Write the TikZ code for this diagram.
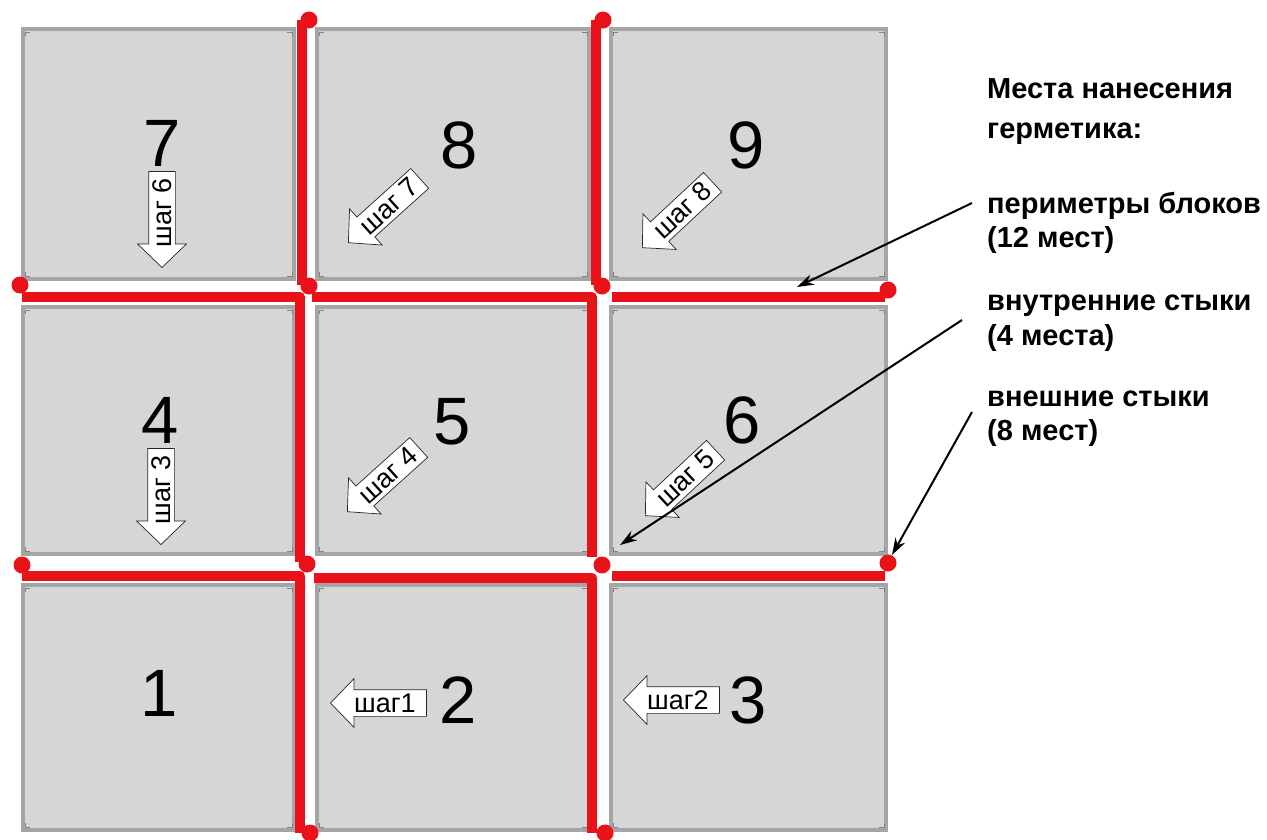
\documentclass[tikz,border=0pt]{standalone}
\usepackage{fontspec}
\setmainfont{Liberation Sans}
\usetikzlibrary{shapes.arrows,arrows.meta,calc}
\definecolor{sealred}{RGB}{232,18,24}
\definecolor{panelfill}{RGB}{214,214,214}
\definecolor{paneledge}{RGB}{165,165,165}
\definecolor{markgray}{RGB}{130,130,130}
\begin{document}
\begin{tikzpicture}[x=1pt,y=-1pt,
  panel/.style={draw=paneledge, fill=panelfill, line width=4pt, inner sep=0pt},
  digit/.style={font=\fontsize{67}{67}\selectfont, inner sep=0pt},
  seal/.style={draw=sealred, line width=10pt, line join=round},
  sealdot/.style={circle, fill=sealred, minimum size=17pt, inner sep=0pt},
  stepar/.style={single arrow, draw=black!85, fill=white, line width=0.7pt,
    single arrow head extend=11pt, single arrow tip angle=92,
    minimum height=96pt, inner xsep=1.5pt, inner ysep=4pt,
    text height=18pt, text depth=0pt, font=\fontsize{27}{27}\selectfont,
    shape border rotate=180, anchor=tip},
  callout/.style={draw=black, line width=2pt, -{Stealth[length=17pt,width=11pt]}},
  note/.style={font=\fontsize{29}{29}\selectfont\bfseries, anchor=base west, inner sep=0pt},
  cornermark/.style={draw=markgray, line width=0.8pt}
]
\useasboundingbox (0,0) rectangle (1267,839);
\fill[white] (0,0) rectangle (1267,839);

% panels
\foreach \n/\cx/\cy/\w/\h in {
  7/158.5/154/271/250, 8/453/154/272/250, 9/748.5/154/275/250,
  4/158.5/430.5/271/247, 5/453/430.5/272/247, 6/748.5/430.5/275/247,
  1/158.5/707.5/271/245, 2/453/707.5/272/245, 3/748.5/707.5/275/245}{
  \node[panel, minimum width=\w pt, minimum height=\h pt] (p\n) at (\cx,\cy) {};
  \draw[cornermark] ($(p\n.north west)+(4,9)$) -- ++(0,-4) -- ++(5,0);
  \draw[cornermark] ($(p\n.north east)+(-4,9)$) -- ++(0,-4) -- ++(-5,0);
  \draw[cornermark] ($(p\n.south west)+(4,-9)$) -- ++(0,4) -- ++(5,0);
  \draw[cornermark] ($(p\n.south east)+(-4,-9)$) -- ++(0,4) -- ++(-5,0);
}

% digits
\node[digit] (n7) at (162,143) {7};
\node[digit] (n8) at (459,145) {8};
\node[digit] (n9) at (746,145) {9};
\node[digit] (n4) at (160,420) {4};
\node[digit] (n5) at (452,422) {5};
\node[digit] (n6) at (742,420) {6};
\node[digit] (n1) at (159,693) {1};
\node[digit] (n2) at (458,700) {2};
\node[digit] (n3) at (748,700) {3};

% step arrows
\node[stepar] (s1) at (330,703) {шаг1};
\node[stepar] (s2) at (623,700) {шаг2};
\node[stepar, rotate=90] (s3) at (161,545) {шаг 3};
\node[stepar, rotate=90] (s6) at (162,268) {шаг 6};
\node[stepar, rotate=42] (s7) at (348,243) {шаг 7};
\node[stepar, rotate=43] (s8) at (642,248) {шаг 8};
\node[stepar, rotate=42] (s4) at (347,512) {шаг 4};
\node[stepar, rotate=43] (s5) at (645,516) {шаг 5};

% seal lines
\draw[seal] (302,20) -- (302,285);
\draw[seal] (596,20) -- (596,285);
\draw[seal] (22,297) -- (300,297) -- (300,562);
\draw[seal] (312,297) -- (592,297) -- (592,557);
\draw[seal] (612,297) -- (885,297);
\draw[seal] (22,576) -- (300,576) -- (300,833);
\draw[seal] (314,578) -- (592,578) -- (592,833);
\draw[seal] (612,576) -- (885,576);

% seal dots
\foreach \i/\x/\y in {a/309/20, b/603/20, c/20/285, d/309/286, e/602/286, f/888/290,
  g/22/565, h/307/564, i/602/565, j/888/563, k/310/833, l/605/833}{
  \node[sealdot] (dot\i) at (\x,\y) {};
}

% notes
\node[note] (title1) at (987,98) {Места нанесения};
\node[note] (title2) at (987,138) {герметика:};
\node[note] (perim1) at (987,213) {периметры блоков};
\node[note] (perim2) at (987,247) {(12 мест)};
\node[note] (inner1) at (987,310) {внутренние стыки};
\node[note] (inner2) at (987,345) {(4 места)};
\node[note] (outer1) at (987,406) {внешние стыки};
\node[note] (outer2) at (987,440) {(8 мест)};

% callouts
\coordinate (c1s) at (972,203);
\coordinate (c1e) at (797,287);
\coordinate (c2s) at (962,320);
\coordinate (c2e) at (620,545);
\coordinate (c3s) at (972,412);
\coordinate (c3e) at (892,555);
\draw[callout] (c1s) -- (c1e);
\draw[callout] (c2s) -- (c2e);
\draw[callout] (c3s) -- (c3e);
\end{tikzpicture}
\end{document}
